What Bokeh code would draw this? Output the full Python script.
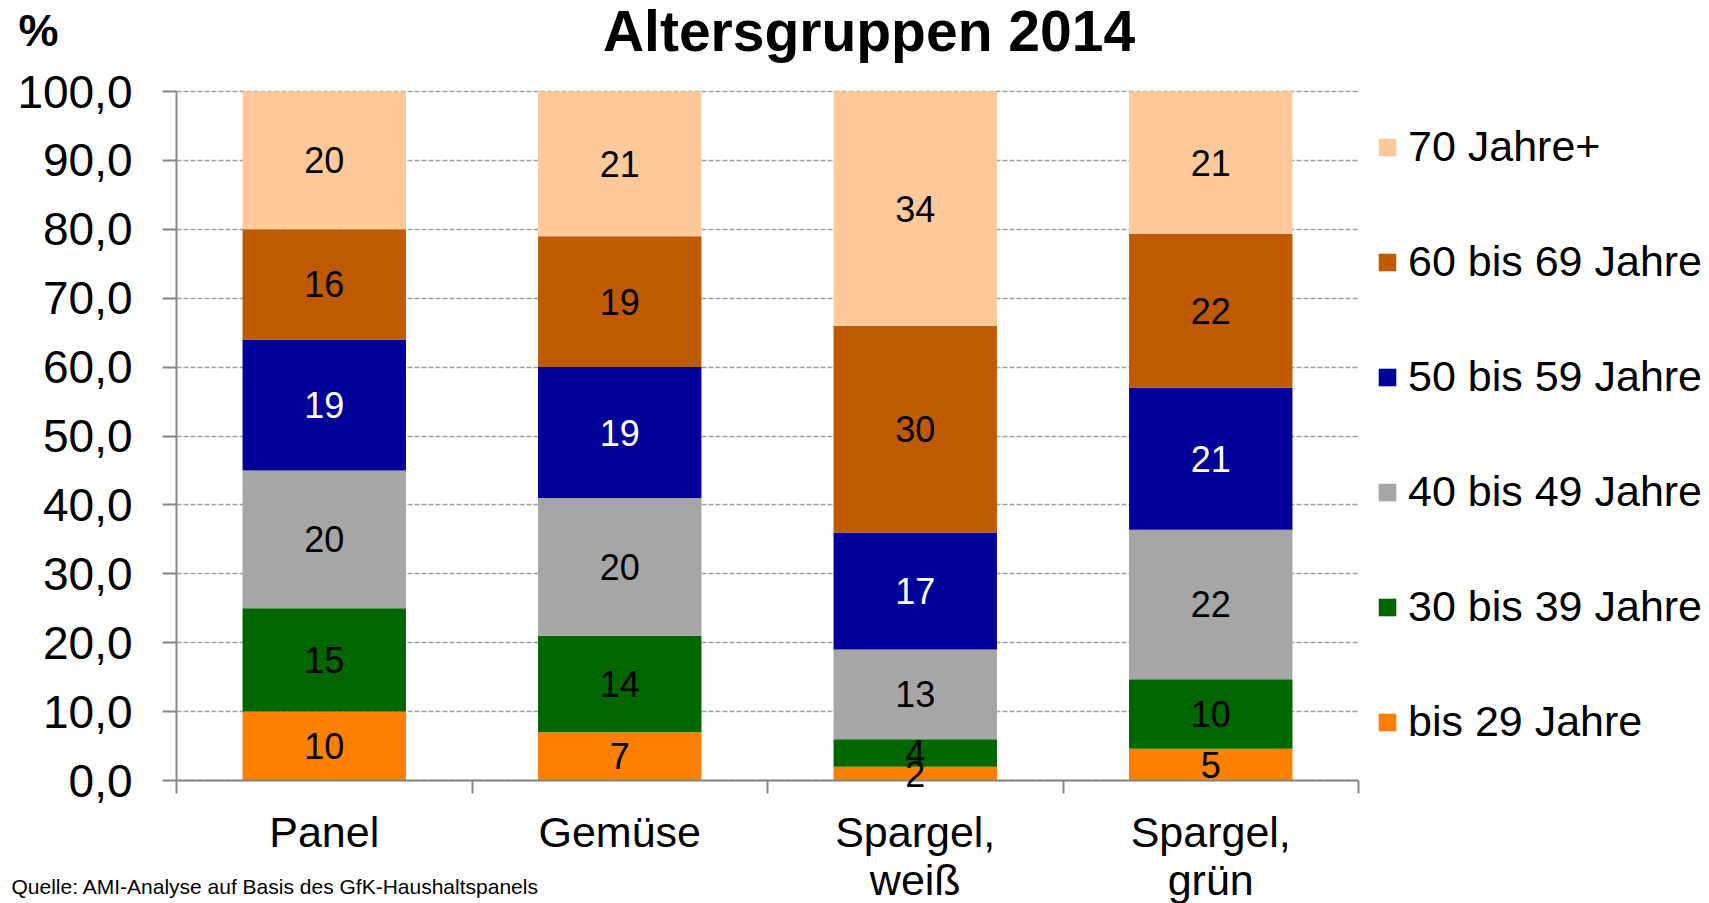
from bokeh.plotting import figure
from bokeh.models import (ColumnDataSource, Range1d, FixedTicker, Label, Legend,
                          LegendItem, Grid)
from bokeh.core.properties import value
from bokeh.embed import file_html
from bokeh.resources import INLINE

# ---------------- data ----------------
categories = ["Panel", "Gemüse", "Spargel,\nweiß", "Spargel,\ngrün"]
groups = ["bis 29 Jahre", "30 bis 39 Jahre", "40 bis 49 Jahre",
          "50 bis 59 Jahre", "60 bis 69 Jahre", "70 Jahre+"]
bis29 = [10, 7, 2, 4.6]
j30_39 = [15, 14, 4, 10.1]
j40_49 = [20, 20, 13, 21.7]
j50_59 = [19, 19, 17, 20.6]
j60_69 = [16, 19, 30, 22.3]
j70plus = [20, 21, 34, 20.7]
y_ticks = [0, 10, 20, 30, 40, 50, 60, 70, 80, 90, 100]
title_text = "Altersgruppen 2014"
unit_text = "%"
source_text = "Quelle: AMI-Analyse auf Basis des GfK-Haushaltspanels"

# ---------------- styles / layout ----------------
colors = ["#FF7F00", "#006600", "#A6A6A6", "#000099", "#C05A00", "#FFC999"]
label_colors = ["black", "black", "black", "white", "black", "black"]
FONT = "Liberation Sans"
AXIS_GRAY = "#868686"
GRID_GRAY = "#9E9E9E"

FIG_W, FIG_H, MARGIN = 1709, 903, 0
# page pixel positions of the plot area (x: 0..n categories, y: 0..100)
PX_X0, PX_X1, PX_Y0, PX_Y100 = 176, 1358, 780, 91

series = [bis29, j30_39, j40_49, j50_59, j60_69, j70plus]
keys = ["g0", "g1", "g2", "g3", "g4", "g5"]
n = len(categories)

sx = (PX_X1 - PX_X0) / n
sy = (PX_Y0 - PX_Y100) / 100.0


def dx(px):
    return (px - PX_X0) / sx


def dy(py):
    return (PX_Y0 - py) / sy


p = figure(width=FIG_W, height=FIG_H, output_backend="svg", toolbar_location=None,
           x_range=Range1d(dx(MARGIN), dx(MARGIN + FIG_W)),
           y_range=Range1d(dy(MARGIN + FIG_H), dy(MARGIN)),
           min_border=0, background_fill_color="white",
           border_fill_color="white", outline_line_color=None)
p.title.visible = False

xs = [i + 0.5 for i in range(n)]
data = {"x": xs}
for k, s in zip(keys, series):
    data[k] = s
src = ColumnDataSource(data)

renderers = p.vbar_stack(keys, x="x", width=0.553, source=src, color=colors,
                         line_color=None)

# segment labels
bottoms = [0.0] * n
for s, lc in zip(series, label_colors):
    ys = [b + v / 2 for b, v in zip(bottoms, s)]
    txt = [str(int(v + 0.5)) for v in s]
    lsrc = ColumnDataSource(dict(x=xs, y=ys, t=txt))
    p.text(x="x", y="y", text="t", source=lsrc, text_align="center",
           text_baseline="middle", text_font=value(FONT),
           text_font_size="36px", text_color=lc, level="annotation")
    bottoms = [b + v for b, v in zip(bottoms, s)]

# x axis (drawn at y=0)
p.xaxis.fixed_location = 0
p.xaxis.bounds = (0, n)
p.xaxis.ticker = FixedTicker(ticks=xs, minor_ticks=list(range(n + 1)))
p.xaxis.major_label_overrides = {x: c for x, c in zip(xs, categories)}
p.xaxis.major_tick_out = 0
p.xaxis.major_tick_in = 0
p.xaxis.minor_tick_out = 13
p.xaxis.minor_tick_in = 0
p.xaxis.minor_tick_line_color = AXIS_GRAY
p.xaxis.minor_tick_line_width = 2
p.xaxis.axis_line_color = AXIS_GRAY
p.xaxis.axis_line_width = 2
p.xaxis.major_label_text_font = FONT
p.xaxis.major_label_text_font_size = "43px"
p.xaxis.major_label_text_color = "black"
p.xaxis.major_label_standoff = 14
p.xaxis.major_label_text_line_height = 1.0

# y axis (drawn at x=0)
p.yaxis.fixed_location = 0
p.yaxis.bounds = (0, 100)
p.yaxis.ticker = FixedTicker(ticks=y_ticks, minor_ticks=[])
p.yaxis.major_label_overrides = {t: f"{t},0" for t in y_ticks}
p.yaxis.major_tick_out = 14
p.yaxis.major_tick_in = 0
p.yaxis.major_tick_line_color = AXIS_GRAY
p.yaxis.major_tick_line_width = 2
p.yaxis.axis_line_color = AXIS_GRAY
p.yaxis.axis_line_width = 2
p.yaxis.major_label_text_font = FONT
p.yaxis.major_label_text_font_size = "46px"
p.yaxis.major_label_text_color = "black"
p.yaxis.major_label_standoff = 30

# grid
p.xgrid.visible = False
p.ygrid.ticker = FixedTicker(ticks=y_ticks, minor_ticks=[])
p.ygrid.bounds = (0, 100)
if "cross_bounds" in Grid.properties():
    p.ygrid.cross_bounds = (0, n)
    p.ygrid.grid_line_color = GRID_GRAY
    p.ygrid.grid_line_dash = "5 2"
    p.ygrid.grid_line_width = 1.5
else:
    p.ygrid.visible = False
    p.segment(x0=[0] * len(y_ticks), x1=[n] * len(y_ticks), y0=y_ticks, y1=y_ticks,
              line_color=GRID_GRAY, line_dash="5 2", line_width=1.5, level="underlay")

# legend (top = 70 Jahre+)
items = [LegendItem(label=g, renderers=[r]) for g, r in zip(groups, renderers)][::-1]
legend = Legend(items=items, location=(1376 - MARGIN, MARGIN + FIG_H - 746),
                orientation="vertical",
                glyph_width=22, glyph_height=22, label_height=22,
                label_standoff=10, spacing=66, padding=0, margin=0,
                border_line_color=None, background_fill_alpha=0,
                label_text_font=FONT, label_text_font_size="43px",
                label_text_color="black")
if "ncols" in Legend.properties():
    legend.ncols = 1
p.add_layout(legend, "center")

# title, unit, source (positioned by the centre of their text box)
p.add_layout(Label(x=dx(868.5), y=dy(30), text=title_text, text_align="center",
                   text_baseline="middle", text_font=FONT,
                   text_font_size="57px", text_font_style="bold",
                   text_color="black"))
p.add_layout(Label(x=dx(18), y=dy(30), text=unit_text, text_align="left",
                   text_baseline="middle", text_font=FONT,
                   text_font_size="45px", text_font_style="bold",
                   text_color="black"))
p.add_layout(Label(x=dx(11), y=dy(886), text=source_text, text_align="left",
                   text_baseline="middle", text_font=FONT,
                   text_font_size="21px", text_color="black"))

open("out.html", "w").write(file_html(p, INLINE))
